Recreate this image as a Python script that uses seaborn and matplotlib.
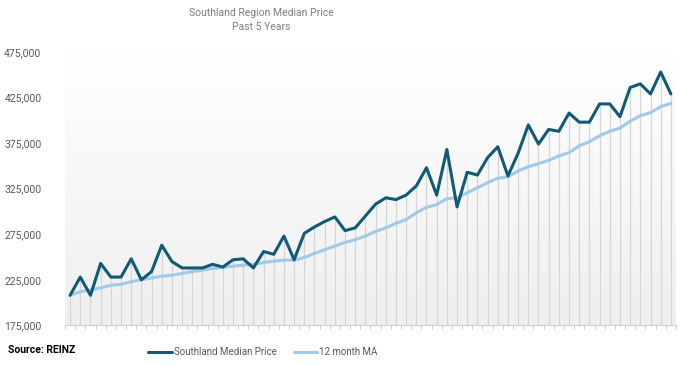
import numpy as np
import pandas as pd
import matplotlib.pyplot as plt
import seaborn as sns
from matplotlib.colors import LinearSegmentedColormap
from matplotlib.lines import Line2D
from matplotlib.ticker import FuncFormatter

# monthly values (60 months)
median_price = [
    208000, 228000, 208000, 243000, 228000, 228000, 248000, 225000, 234000, 263000,
    245000, 238000, 238000, 238000, 242000, 239000, 247000, 248000, 238000, 256000,
    253000, 273000, 247000, 276000, 283000, 289000, 294000, 279000, 282000, 295000,
    308000, 315000, 313000, 318000, 328000, 348000, 318000, 368000, 305000, 343000,
    340000, 359000, 371000, 339000, 364000, 395000, 374000, 390000, 388000, 408000,
    398000, 398000, 418000, 418000, 404000, 436000, 440000, 429000, 453000, 429000,
]
moving_avg = [
    208000, 212000, 214000, 216000, 219000, 220000, 223000, 225000, 227000, 229000,
    230000, 232000, 234000, 235500, 237500, 238500, 240000, 241000, 242000, 244000,
    245500, 246500, 246500, 249500, 254000, 258000, 262000, 266000, 269000, 273000,
    278000, 282000, 287000, 291000, 298500, 304500, 307500, 314000, 315000, 320500,
    326000, 331500, 336500, 338000, 344500, 349000, 352500, 356000, 361000, 364500,
    372000, 376500, 383000, 388000, 391500, 399000, 405000, 408500, 415000, 418500,
]
month_idx = list(range(len(median_price)))
y_ticks = [175000, 225000, 275000, 325000, 375000, 425000, 475000]

dark_col = '#105a74'
light_col = '#9fcae8'
text_col = '#595959'

sns.set_theme(style="white")
plt.rcParams['font.family'] = ['Roboto', 'DejaVu Sans']

df = pd.DataFrame({
    'month': month_idx,
    'Southland Median Price': median_price,
    '12 month MA': moving_avg,
})

fig = plt.figure(figsize=(6.88, 3.66), dpi=100)
ax = fig.add_axes([0.0945, 0.111, 0.888, 0.747])

# soft grey gradient behind the plot
bg = LinearSegmentedColormap.from_list('bg', ['#ffffff', '#efefef'])
ax.imshow(np.linspace(0, 1, 256).reshape(-1, 1), extent=[0, 1, 0, 1],
          transform=ax.transAxes, aspect='auto', cmap=bg, origin='upper', zorder=0)

# drop lines from each monthly value
ax.vlines(df['month'], y_ticks[0], df['Southland Median Price'],
          color='#d6d6d6', lw=0.9, zorder=1)

sns.lineplot(data=df, x='month', y='12 month MA', color=light_col, lw=2.2, ax=ax, zorder=3)
sns.lineplot(data=df, x='month', y='Southland Median Price', color=dark_col, lw=2.2, ax=ax, zorder=4)

ax.set_xlim(-0.5, len(month_idx) - 0.5)
ax.set_ylim(y_ticks[0], y_ticks[-1])
ax.set_yticks(y_ticks)
ax.yaxis.set_major_formatter(FuncFormatter(lambda v, p: f'{v:,.0f}'))
ax.set_xticks([])
ax.set_xticks(np.arange(-0.5, len(month_idx), 1), minor=True)
ax.tick_params(axis='y', length=0, pad=17, labelsize=7.5, labelcolor=text_col)
ax.tick_params(axis='x', which='minor', length=3, width=0.7, color='#c8c8c8', direction='out', bottom=True)
ax.set_xlabel('')
ax.set_ylabel('')
for s in ['left', 'right', 'top']:
    ax.spines[s].set_visible(False)
ax.spines['bottom'].set_color('#d0d0d0')
ax.spines['bottom'].set_linewidth(0.8)

fig.text(261 / 688, 1 - 13 / 366, 'Southland Region Median Price', ha='center', va='center',
         color='#7f7f7f', fontsize=7.5)
fig.text(261 / 688, 1 - 27 / 366, 'Past 5 Years', ha='center', va='center',
         color='#7f7f7f', fontsize=7.5)
fig.text(8 / 688, 1 - 350 / 366, 'Source: REINZ', ha='left', va='center',
         color='black', fontsize=7.5, fontweight='bold')

handles = [Line2D([], [], color=dark_col, lw=2.2), Line2D([], [], color=light_col, lw=2.2)]
leg = fig.legend(handles, ['Southland Median Price', '12 month MA'], loc='center',
                 bbox_to_anchor=(263 / 688, 1 - 352 / 366), ncol=2, frameon=False,
                 fontsize=7, handlelength=2.4, handletextpad=0.2, columnspacing=1.8)
for t in leg.get_texts():
    t.set_color(text_col)

fig.savefig('out.png', dpi=100)
